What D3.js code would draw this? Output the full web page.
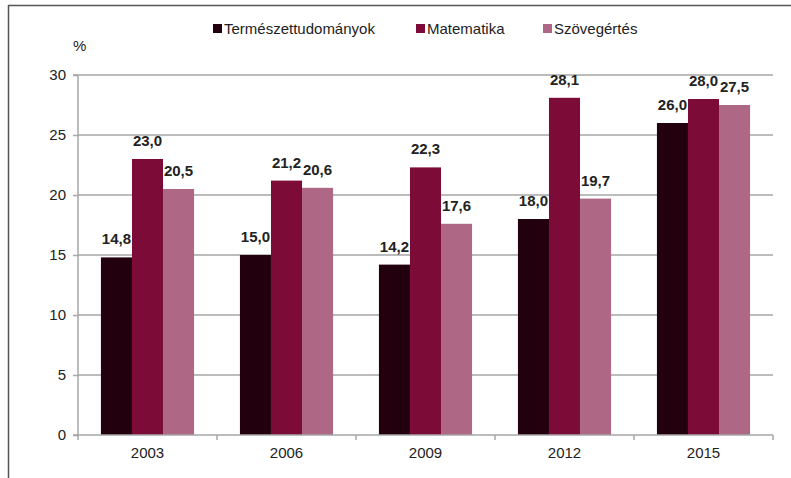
<!DOCTYPE html>
<html><head><meta charset="utf-8">
<script src="https://cdn.jsdelivr.net/npm/d3@7"></script>
<style>body{margin:0;background:#fff}svg{display:block;font-family:Arial,"Liberation Sans",sans-serif}</style>
</head><body><svg id="c" width="791" height="478"></svg>
<script>
const years = ["2003","2006","2009","2012","2015"];
const seriesNames = ["Természettudományok","Matematika","Szövegértés"];
const termeszet = [14.8,15.0,14.2,18.0,26.0];
const matek = [23.0,21.2,22.3,28.1,28.0];
const szoveg = [20.5,20.6,17.6,19.7,27.5];
const yTicks = [0,5,10,15,20,25,30];
const colors = ["#23000e","#7c0c37","#ae6886"];
const series = [termeszet, matek, szoveg];

const svg = d3.select("#c");
const FS = 15;
const margin = {left:78, right:18, top:75, bottom:43};
const W = 791, H = 478;
const x0 = d3.scaleBand().domain(years).range([margin.left, W-margin.right]).paddingInner(0.33).paddingOuter(0.165);
const xb = d3.scaleBand().domain(years).range([margin.left, W-margin.right]);
const x1 = d3.scaleBand().domain(d3.range(3)).range([0, x0.bandwidth()]);
const y = d3.scaleLinear().domain([0,30]).range([H-margin.bottom, margin.top]);

// frame
svg.append("line").attr("x1",8).attr("x2",W).attr("y1",5.5).attr("y2",5.5).attr("stroke","#555").attr("stroke-width",1.5);
svg.append("line").attr("x1",8.5).attr("x2",8.5).attr("y1",5).attr("y2",H).attr("stroke","#555").attr("stroke-width",1.5);

// gridlines
svg.append("g").selectAll("line").data(yTicks.filter(d=>d>0)).join("line")
  .attr("x1",margin.left).attr("x2",W-margin.right)
  .attr("y1",d=>y(d)).attr("y2",d=>y(d))
  .attr("stroke","#a6a6a6").attr("stroke-width",1.5);

// bars
const g = svg.append("g");
years.forEach((yr,i)=>{
  series.forEach((s,j)=>{
    g.append("rect").attr("x",x0(yr)+x1(j)).attr("y",y(s[i]))
     .attr("width",x1.bandwidth()).attr("height",y(0)-y(s[i])).attr("fill",colors[j]);
    g.append("text").attr("x",x0(yr)+x1(j)+x1.bandwidth()/2).attr("y",y(s[i])-13)
     .attr("text-anchor","middle").attr("font-size",FS).attr("font-weight","bold").attr("fill","#222")
     .text(d3.format(".1f")(s[i]).replace(".",","));
  });
});

// y axis
const ya = svg.append("g").attr("transform",`translate(${margin.left},0)`)
  .call(d3.axisLeft(y).tickValues(yTicks).tickSize(5).tickPadding(7));
ya.select(".domain").attr("stroke","#a6a6a6").attr("stroke-width",1.5).attr("d",`M-5,${y(30)}H0V${y(0)}`);
ya.selectAll(".tick line").attr("stroke","#a6a6a6").attr("stroke-width",1.5);
ya.selectAll("text").attr("font-size",FS).attr("fill","#222").attr("font-family","Arial, 'Liberation Sans', sans-serif");

// x axis
const xa = svg.append("g").attr("transform",`translate(0,${y(0)})`);
xa.append("line").attr("x1",margin.left-5).attr("x2",W-margin.right).attr("stroke","#a6a6a6").attr("stroke-width",1.5);
const bounds = years.map(yr=>xb(yr)).concat([W-margin.right]);
xa.selectAll("line.t").data(bounds).join("line").attr("class","t")
  .attr("x1",d=>d).attr("x2",d=>d).attr("y1",0).attr("y2",5).attr("stroke","#a6a6a6").attr("stroke-width",1.5);
xa.selectAll("text").data(years).join("text")
  .attr("x",d=>xb(d)+xb.bandwidth()/2).attr("y",23).attr("text-anchor","middle")
  .attr("font-size",FS).attr("fill","#222").text(d=>d);

// % label
svg.append("text").attr("x",73).attr("y",51).attr("font-size",FS).attr("fill","#222").text("%");

// legend
const legX = [213,416,543];
seriesNames.forEach((n,j)=>{
  svg.append("rect").attr("x",legX[j]).attr("y",24).attr("width",9).attr("height",9).attr("fill",colors[j]);
  svg.append("text").attr("x",legX[j]+11).attr("y",34).attr("font-size",FS).attr("fill","#222").text(n);
});
</script></body></html>
